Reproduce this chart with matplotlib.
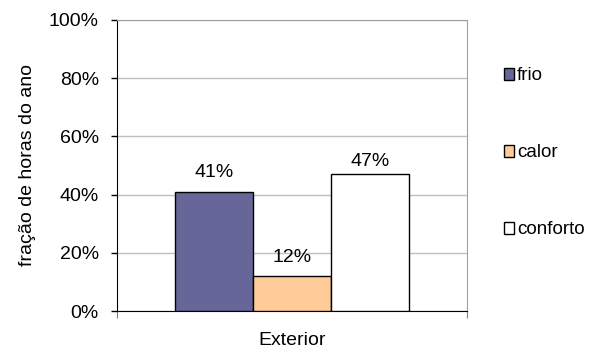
import matplotlib
matplotlib.use('Agg')
import matplotlib.pyplot as plt
import numpy as np

# dados
categorias = ['Exterior']
series = ['frio', 'calor', 'conforto']
valores = [41, 12, 47]
cores = ['#666699', '#FFCC99', '#FFFFFF']
deslocamento = [8, 7, 3]  # pontos acima da barra, para cada rótulo

plt.rcParams['font.family'] = ['Liberation Sans', 'DejaVu Sans']
fs = 14

fig = plt.figure(figsize=(5.9, 3.48), dpi=100)
ax = fig.add_axes([117 / 590, 37 / 348, 350 / 590, 291 / 348])

largura = 0.222
x = np.arange(len(categorias))
for i, (nome, v, c) in enumerate(zip(series, valores, cores)):
    pos = x + (i - 1) * largura
    ax.bar(pos, v, width=largura, color=c, edgecolor='black', linewidth=1.0,
           label=nome, zorder=3)
    ax.annotate(f'{v}%', (pos[0], v), xytext=(0, deslocamento[i]),
                textcoords='offset points', ha='center', va='bottom', fontsize=fs)

ax.set_xlim(-0.5, 0.5)
ax.set_ylim(0, 100)
ax.set_yticks(range(0, 101, 20))
ax.set_yticklabels([f'{t}%' for t in range(0, 101, 20)], fontsize=fs)
ax.set_xticks([-0.5, 0.5])
ax.set_xticklabels(['', ''])
ax.tick_params(axis='x', length=5, color='#808080')
ax.tick_params(axis='y', length=4, width=1, color='black', pad=9)
ax.text(0, -0.1, categorias[0], transform=ax.get_xaxis_transform(),
        ha='center', va='center', fontsize=fs)
ax.set_ylabel('fração de horas do ano', fontsize=fs, labelpad=9)

ax.yaxis.grid(True, color='#c0c0c0', linewidth=1, zorder=0)
ax.spines['left'].set_color('black')
ax.spines['bottom'].set_color('black')
ax.spines['top'].set_color('#a0a0a0')
ax.spines['right'].set_color('#a0a0a0')

leg = ax.legend(loc='center left', bbox_to_anchor=(1.105, 0.543), frameon=False,
                fontsize=13.5, handlelength=0.55, handleheight=0.55,
                handletextpad=0.15, labelspacing=3.2, borderpad=0, borderaxespad=0)

fig.savefig('out.png', dpi=100)
